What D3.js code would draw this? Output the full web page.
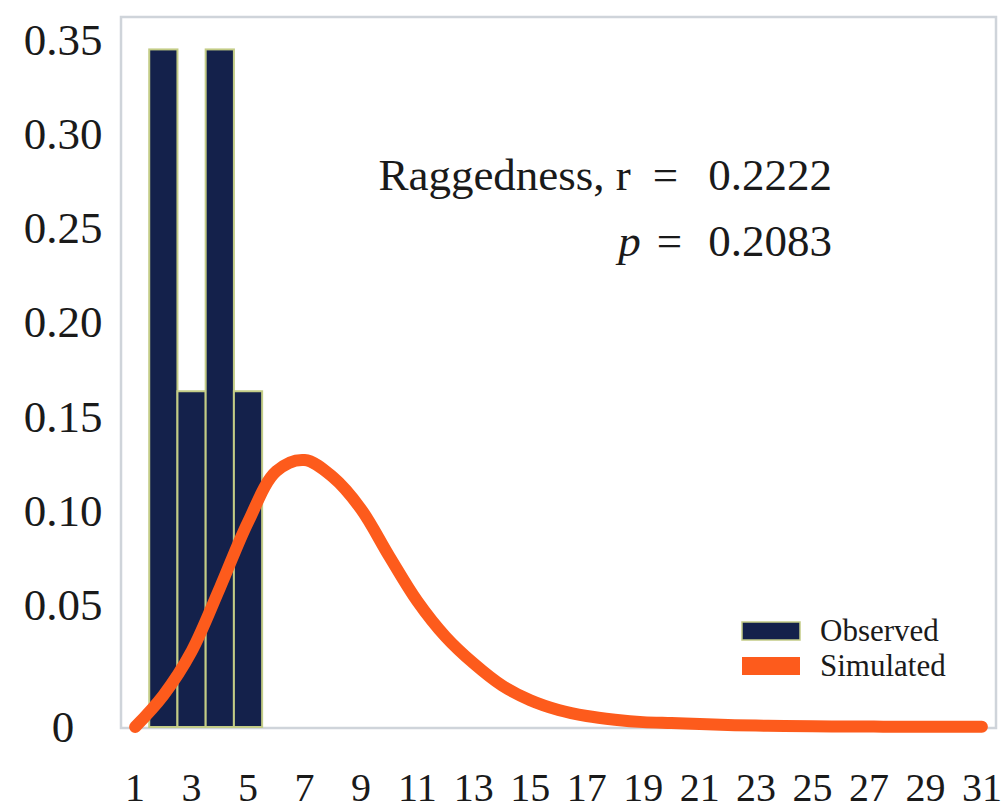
<!DOCTYPE html>
<html><head><meta charset="utf-8">
<script src="https://cdn.jsdelivr.net/npm/d3@7"></script>
<style>
body{margin:0;background:#fff}
text{font-family:"Liberation Serif","Times New Roman",serif;fill:#1a1a1a}
</style>
</head><body>
<svg id="chart" width="1001" height="812"></svg>
<script>
// ---- data ----
const mismatchCategories = d3.range(1, 32);
const observedCategories = [2, 3, 4, 5];
const observedFrequency = [0.345, 0.1635, 0.345, 0.1635];
const simulatedFrequency = [
  0.000, 0.013, 0.031, 0.059, 0.094, 0.121, 0.127, 0.118, 0.101, 0.076,
  0.052, 0.037, 0.026, 0.017, 0.011, 0.007, 0.0045, 0.003, 0.002, 0.0016,
  0.0012, 0.0008, 0.0006, 0.0004, 0.0003, 0.0002, 0.0002, 0.0001, 0.0001, 0.0001, 0.0001
];
const yTickValues = [0, 0.05, 0.10, 0.15, 0.20, 0.25, 0.30, 0.35];
const yTickLabels = ["0", "0.05", "0.10", "0.15", "0.20", "0.25", "0.30", "0.35"];
const xTickLabels = [1, 3, 5, 7, 9, 11, 13, 15, 17, 19, 21, 23, 25, 27, 29, 31];
const legendLabels = ["Observed", "Simulated"];
const statLine1 = ["Raggedness, r", "=", "0.2222"];
const statLine2 = ["p", "=", "0.2083"];

// ---- layout ----
const svg = d3.select("#chart");
const plot = {left: 121, top: 17, right: 996, bottom: 728};
const navy = "#14214b", orange = "#fd5b1c";

const x = d3.scaleBand().domain(mismatchCategories).range([plot.left, plot.right]).padding(0);
const y = d3.scaleLinear().domain([0, 0.05, 0.35]).range([727, 605, 40]);

// frame
svg.append("rect")
  .attr("x", plot.left).attr("y", plot.top)
  .attr("width", plot.right - plot.left).attr("height", plot.bottom - plot.top)
  .attr("fill", "#fff").attr("stroke", "#cfd4da").attr("stroke-width", 2.5);

// bars
svg.append("g").selectAll("rect")
  .data(observedCategories.map((c, i) => ({c, v: observedFrequency[i]})))
  .join("rect")
  .attr("x", d => x(d.c)).attr("width", x.bandwidth())
  .attr("y", d => y(d.v)).attr("height", d => y(0) - y(d.v))
  .attr("fill", navy).attr("stroke", "#c3cc86").attr("stroke-width", 2);

// simulated curve
const line = d3.line()
  .x((d, i) => x(mismatchCategories[i]) + x.bandwidth() / 2)
  .y(d => y(d))
  .curve(d3.curveCatmullRom.alpha(0.5));
svg.append("path").datum(simulatedFrequency)
  .attr("d", line).attr("fill", "none")
  .attr("stroke", orange).attr("stroke-width", 12)
  .attr("stroke-linecap", "round").attr("stroke-linejoin", "round");

// y axis
const yAxis = d3.axisLeft(y).tickValues(yTickValues).tickSize(0)
  .tickFormat((d, i) => yTickLabels[i]);
const gy = svg.append("g").attr("transform", `translate(${plot.left},0)`).call(yAxis);
gy.select(".domain").remove();
gy.selectAll("text").attr("x", -58).attr("text-anchor", "middle")
  .style("font-size", "45px").style("font-family", '"Liberation Serif",serif').attr("fill", "#1a1a1a");

// x axis
const xAxis = d3.axisBottom(x).tickValues(xTickLabels).tickSize(0);
const gx = svg.append("g").attr("transform", `translate(0,${plot.bottom})`).call(xAxis);
gx.select(".domain").remove();
gx.selectAll("text").attr("y", 73).attr("dy", 0)
  .style("font-size", "40px").style("font-family", '"Liberation Serif",serif').attr("fill", "#1a1a1a");

// annotation
const t1 = svg.append("text").attr("x", 832).attr("y", 190).attr("text-anchor", "end").style("font-size", "45px");
t1.append("tspan").text(statLine1[0]);
t1.append("tspan").attr("dx", 22).text(statLine1[1]);
t1.append("tspan").attr("dx", 30).text(statLine1[2]);
const t2 = svg.append("text").attr("x", 832).attr("y", 256).attr("text-anchor", "end").style("font-size", "45px");
t2.append("tspan").style("font-style", "italic").text(statLine2[0]);
t2.append("tspan").attr("dx", 16).text(statLine2[1]);
t2.append("tspan").attr("dx", 26).text(statLine2[2]);

// legend
const legend = svg.append("g");
const legendColors = [navy, orange];
legend.selectAll("rect").data(legendLabels).join("rect")
  .attr("x", 742).attr("y", (d, i) => 622 + i * 35)
  .attr("width", 58).attr("height", 18)
  .attr("fill", (d, i) => legendColors[i])
  .attr("stroke", (d, i) => i === 0 ? "#c3cc86" : "none").attr("stroke-width", 1.5);
legend.selectAll("text").data(legendLabels).join("text")
  .attr("x", 820).attr("y", (d, i) => 641 + i * 35)
  .style("font-size", "31px").text(d => d);
</script>
</body></html>
